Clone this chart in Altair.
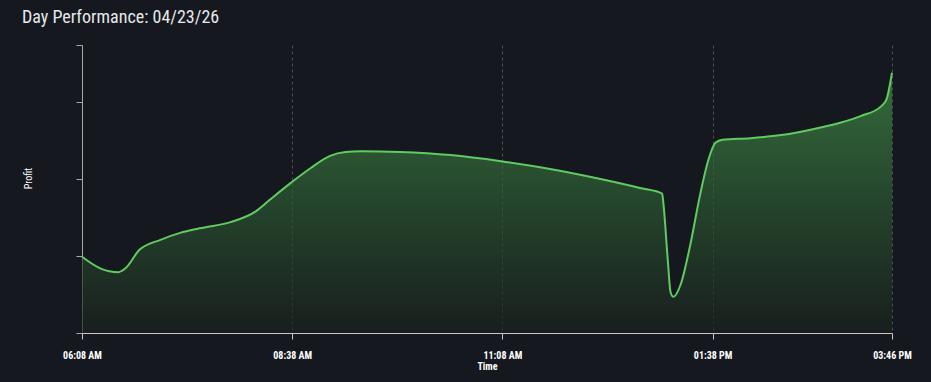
import altair as alt
import pandas as pd

times = ["06:08", "06:21", "06:34", "06:39", "06:49", "07:04", "07:18", "07:32", "07:54", "08:12",
         "08:22", "08:37", "08:51", "09:05", "09:16", "09:27", "09:55", "10:31", "11:07", "11:42",
         "12:18", "12:47", "13:02", "13:03", "13:06", "13:08", "13:10", "13:15", "13:22", "13:29",
         "13:35", "13:40", "13:45", "14:05", "14:27", "14:48", "15:09", "15:24", "15:38", "15:42", "15:46"]
profit = [99, 84, 79, 84, 108, 121, 130, 136, 144, 158,
          173, 195, 214, 230, 235, 236, 235, 231, 223, 213,
          200, 188, 181, 166, 95, 53, 47, 62, 114, 179,
          225, 247, 251, 253, 257, 264, 273, 282, 294, 303, 338]
tick_times = [(6, 8), (8, 38), (11, 8), (13, 38), (15, 46)]
y_ticks = [0, 100, 200, 300, 374]

df = pd.DataFrame({"Time": ["2026-04-23T" + t + ":00" for t in times], "Profit": profit})

tick_vals = [alt.DateTime(year=2026, month=4, date=23, hours=h, minutes=m) for h, m in tick_times]
x_dom = [tick_vals[0], tick_vals[-1]]

FONT = "Roboto Condensed, Roboto"

gradient = alt.Gradient(
    gradient="linear",
    stops=[alt.GradientStop(color="#438f47", offset=0),
           alt.GradientStop(color="#2b5832", offset=0.5),
           alt.GradientStop(color="#1a211d", offset=1)],
    x1=1, x2=1, y1=0, y2=1,
)

chart = alt.Chart(df).mark_area(
    interpolate="monotone",
    color=gradient,
    line={"color": "#5fcb60", "strokeWidth": 2},
).encode(
    x=alt.X("Time:T", scale=alt.Scale(domain=x_dom, nice=False),
            axis=alt.Axis(values=tick_vals, format="%I:%M %p", title="Time",
                          grid=True, gridColor="#4a4e55", gridDash=[3, 3], gridWidth=1,
                          domainColor="#c8c8c8", tickColor="#c8c8c8", tickSize=6,
                          labelColor="#ffffff", labelFont=FONT, labelFontSize=10,
                          labelFontWeight="bold", labelPadding=11, labelFlush=False,
                          titleColor="#ffffff", titleFont=FONT, titleFontSize=10,
                          titleFontWeight="bold", titleY=36, titleBaseline="alphabetic")),
    y=alt.Y("Profit:Q", scale=alt.Scale(domain=[0, 374], nice=False),
            axis=alt.Axis(values=y_ticks, labels=False, grid=False, title="Profit",
                          domainColor="#a8a8a8", tickColor="#a8a8a8", tickSize=6,
                          titleColor="#ffffff", titleFont=FONT, titleFontSize=10,
                          titleFontWeight="normal", titleX=-54, titleY=133,
                          titleAngle=270, titleBaseline="middle", titleAlign="center")),
).properties(
    width=810, height=288,
    title=alt.TitleParams("Day Performance: 04/23/26", anchor="start", frame="group",
                          dx=-60, offset=18, font=FONT, fontSize=18,
                          fontWeight="normal", color="#e6e8ea"),
    autosize=alt.AutoSizeParams(type="none"),
    padding={"left": 82, "top": 45, "right": 39, "bottom": 49},
    background="#15181e",
).configure_view(stroke=None)

chart.save("out.html", embed_options={"renderer": "svg", "actions": False})
